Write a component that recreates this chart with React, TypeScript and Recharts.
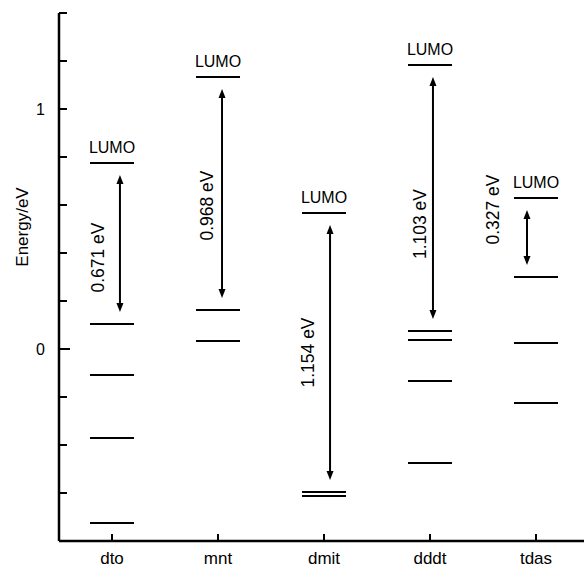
import React from 'react';
import { ComposedChart, Scatter, XAxis, YAxis, ReferenceLine } from 'recharts';

const molecules = ['dto', 'mnt', 'dmit', 'dddt', 'tdas'];
const lumoLevels = [0.775, 1.133, 0.567, 1.183, 0.629];
const occupiedLevels = [
  [0.104, -0.108, -0.371, -0.725],
  [0.1625, 0.033],
  [-0.596, -0.6125],
  [0.075, 0.0375, -0.133, -0.475],
  [0.3, 0.025, -0.225],
];
const gapLabels = ['0.671 eV', '0.968 eV', '1.154 eV', '1.103 eV', '0.327 eV'];
const yTicks = [-0.8, -0.6, -0.4, -0.2, 0, 0.2, 0.4, 0.6, 0.8, 1, 1.2, 1.4];
const yLabelled = [0, 1];

// placement of the arrows / gap labels (style only)
const ARROW_DX = [0.075, 0.038, 0.057, 0.028, -0.085];
const LABEL_DX = [-22, -15, -22, -13, -34];
const LABEL_DY = [14, 12, 0, 26, -28];

const FONT = '"Liberation Sans", Arial, Helvetica, sans-serif';

const levels = molecules.flatMap((_, i) => [
  { x: i, e: lumoLevels[i], lumo: true },
  ...occupiedLevels[i].map((e) => ({ x: i, e, lumo: false })),
]);

const LevelShape = (props: any) => {
  const { cx, cy, payload } = props;
  return (
    <g>
      <line x1={cx - 22} x2={cx + 22} y1={cy} y2={cy} stroke="#000" strokeWidth={2} />
      {payload.lumo && (
        <text x={cx} y={cy - 10} textAnchor="middle" fontSize={16} fontFamily={FONT} fill="#000">
          LUMO
        </text>
      )}
    </g>
  );
};

const GapArrow = (props: any) => {
  const { x1, y1, y2, label, ldx, ldy } = props;
  const top = Math.min(y1, y2) + 12;
  const bot = Math.max(y1, y2) - 12;
  const head = 9;
  const hw = 3.5;
  const mid = (top + bot) / 2;
  const lx = x1 + ldx;
  const ly = mid + ldy;
  return (
    <g>
      <line x1={x1} x2={x1} y1={top + head - 1} y2={bot - head + 1} stroke="#000" strokeWidth={2} />
      <polygon points={`${x1},${top} ${x1 - hw},${top + head} ${x1 + hw},${top + head}`} fill="#000" />
      <polygon points={`${x1},${bot} ${x1 - hw},${bot - head} ${x1 + hw},${bot - head}`} fill="#000" />
      <text
        x={lx}
        y={ly}
        transform={`rotate(-90 ${lx} ${ly})`}
        textAnchor="middle"
        dominantBaseline="central"
        fontSize={17.5}
        fontFamily={FONT}
        fill="#000"
      >
        {label}
      </text>
    </g>
  );
};

const LeftTick = (props: any) => {
  const { x, y, payload } = props;
  const v = payload.value;
  const zero = Math.abs(v) < 1e-9;
  const show = yLabelled.some((t) => Math.abs(t - v) < 1e-9);
  return (
    <g>
      <line x1={x} x2={x + (zero ? 11 : 8)} y1={y} y2={y} stroke="#000" strokeWidth={2} />
      {show && (
        <text x={x - 14} y={y + 6} textAnchor="end" fontSize={16} fontFamily={FONT} fill="#000">
          {v}
        </text>
      )}
    </g>
  );
};

const RightTick = (props: any) => {
  const { x, y, payload } = props;
  const zero = Math.abs(payload.value) < 1e-9;
  return <line x1={x} x2={x - (zero ? 16 : 8)} y1={y} y2={y} stroke="#000" strokeWidth={2} />;
};

const BottomTick = (props: any) => {
  const { x, y, payload } = props;
  return (
    <g>
      <line x1={x} x2={x} y1={y} y2={y - 7} stroke="#000" strokeWidth={2} />
      <text x={x} y={y + 23} textAnchor="middle" fontSize={17} fontFamily={FONT} fill="#000">
        {molecules[payload.value]}
      </text>
    </g>
  );
};

const TopTick = (props: any) => {
  const { x, y } = props;
  return <line x1={x} x2={x} y1={y} y2={y + 6} stroke="#000" strokeWidth={2} />;
};

export default function App() {
  return (
    <div style={{ position: 'absolute', left: 0, top: 0, width: 584, height: 574, overflow: 'hidden', background: '#fff' }}>
      <ComposedChart width={600} height={574} data={levels} margin={{ top: 13, right: 0, bottom: 0, left: 0 }}>
        <XAxis
          dataKey="x"
          type="number"
          domain={[-0.5, 4.5]}
          ticks={[0, 1, 2, 3, 4]}
          tick={<BottomTick />}
          tickLine={false}
          tickSize={0}
          tickMargin={0}
          height={33}
          axisLine={{ stroke: '#000', strokeWidth: 2.5 }}
        />
        <XAxis
          xAxisId="top"
          orientation="top"
          type="number"
          domain={[-0.5, 4.5]}
          ticks={[0, 1, 2, 3, 4]}
          tick={<TopTick />}
          tickLine={false}
          tickSize={0}
          tickMargin={0}
          height={0}
          axisLine={{ stroke: '#000', strokeWidth: 2.5 }}
        />
        <YAxis
          dataKey="e"
          type="number"
          domain={[-0.8, 1.4]}
          ticks={yTicks}
          tick={<LeftTick />}
          tickLine={false}
          tickSize={0}
          tickMargin={0}
          width={59}
          axisLine={{ stroke: '#000', strokeWidth: 2.5 }}
          label={{
            value: 'Energy/eV',
            angle: -90,
            position: 'insideLeft',
            offset: 0,
            dx: 22,
            dy: -50,
            style: { fontSize: 17, fontFamily: FONT, fill: '#000', textAnchor: 'middle' },
          }}
        />
        <YAxis
          yAxisId="right"
          orientation="right"
          type="number"
          domain={[-0.8, 1.4]}
          ticks={yTicks}
          tick={<RightTick />}
          tickLine={false}
          tickSize={0}
          tickMargin={0}
          width={11}
          axisLine={{ stroke: '#000', strokeWidth: 2.5 }}
        />
        <Scatter data={levels} dataKey="e" shape={<LevelShape />} isAnimationActive={false} />
        {molecules.map((m, i) => (
          <ReferenceLine
            key={m}
            segment={[
              { x: i + ARROW_DX[i], y: lumoLevels[i] },
              { x: i + ARROW_DX[i], y: occupiedLevels[i][0] },
            ]}
            shape={(p: any) => <GapArrow {...p} label={gapLabels[i]} ldx={LABEL_DX[i]} ldy={LABEL_DY[i]} />}
          />
        ))}
      </ComposedChart>
    </div>
  );
}
